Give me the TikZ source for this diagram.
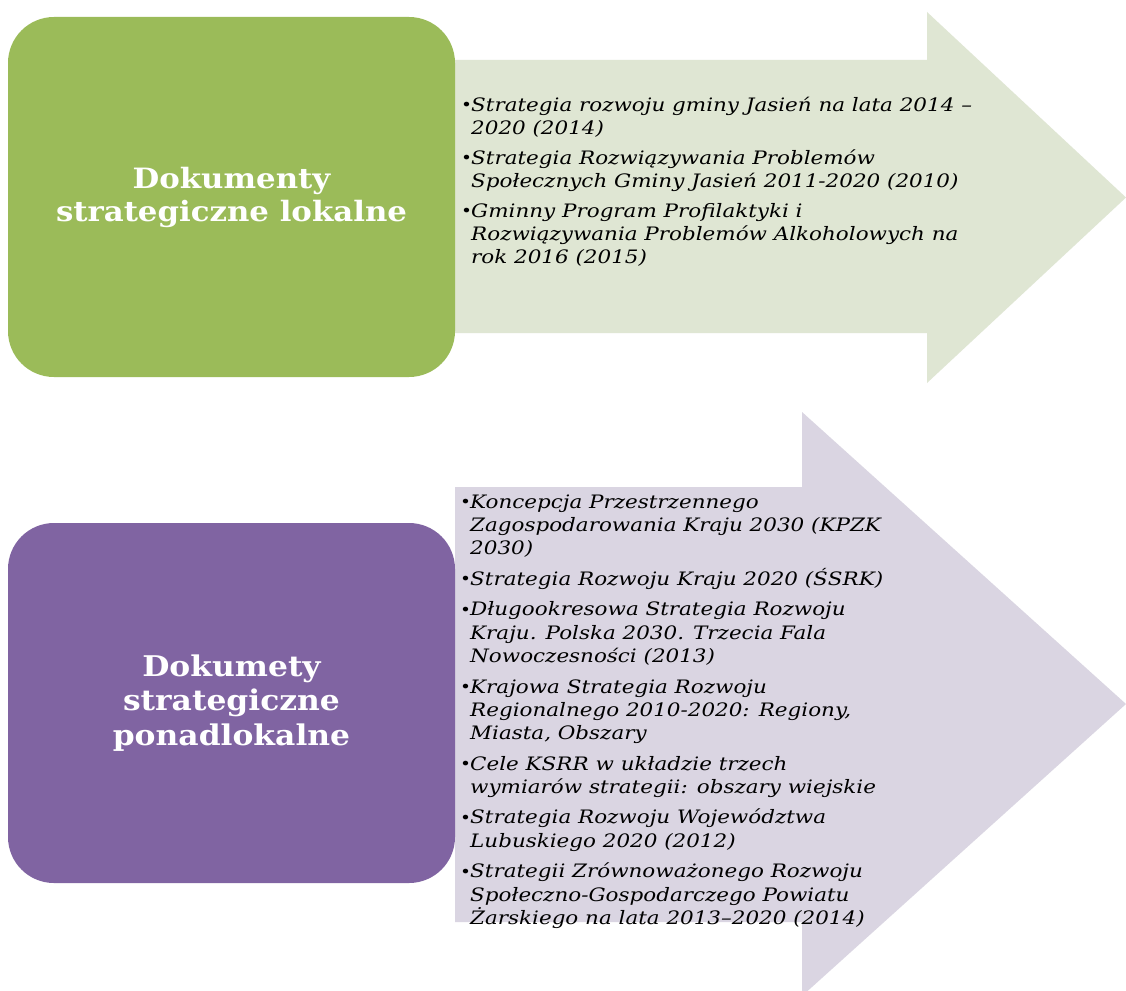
\documentclass[tikz,border=0pt]{standalone}
\usepackage{fontspec}
\setmainfont{DejaVu Serif}
\newfontfamily\itemfont[FakeStretch=1.16]{DejaVu Serif}
\newfontfamily\headfont[FakeStretch=1.1]{DejaVu Serif}
\definecolor{gbox}{HTML}{9BBB59}
\definecolor{garrow}{HTML}{DFE6D3}
\definecolor{pbox}{HTML}{8064A2}
\definecolor{parrow}{HTML}{DAD5E2}
\newcommand\bul{\makebox[10pt][l]{\raisebox{0.5pt}{\fontsize{16}{16}\selectfont\upshape •}}}
\newcommand\ind{\hspace*{10pt}}
\tikzset{
  catbox/.style={rounded corners=46pt, minimum width=447pt, minimum height=360pt,
    text=white, font=\headfont\fontsize{28}{33}\selectfont\bfseries, align=center, inner sep=0pt},
  itemlist/.style={anchor=north west, align=left, inner sep=0pt,
    font=\itemfont\fontsize{18.5}{23}\selectfont\itshape, text=black}
}
\begin{document}
\begin{tikzpicture}[x=1pt,y=-1pt]
\fill[white] (0,0) rectangle (1126,990);
\useasboundingbox (0,0) rectangle (1126,990);
% green arrow
\fill[garrow] (455,60) -- (927,60) -- (927,12) -- (1126,197.5) -- (927,383) -- (927,333) -- (455,333) -- cycle;
\node[catbox, fill=gbox] (lok) at (231.5,197) {Dokumenty\\strategiczne lokalne};
\node[itemlist] (lokitems) at (461,96.5) {%
\bul Strategia rozwoju gminy Jasień na lata 2014 –\\
\ind 2020 (2014)\\[7pt]
\bul Strategia Rozwiązywania Problemów\\
\ind Społecznych Gminy Jasień 2011-2020 (2010)\\[7pt]
\bul Gminny Program Profilaktyki i\\
\ind Rozwiązywania Problemów Alkoholowych na\\
\ind rok 2016 (2015)};
% purple arrow
\fill[parrow] (455,487) -- (802,487) -- (802,412) -- (1126,704) -- (802,996) -- (802,922) -- (455,922) -- cycle;
\node[catbox, fill=pbox, font=\headfont\fontsize{28.5}{34.5}\selectfont\bfseries] (ponad) at (231.5,703) {Dokumety\\strategiczne\\ponadlokalne};
\node[itemlist, font=\itemfont\fontsize{18.5}{23.3}\selectfont\itshape] (ponaditems) at (460,494.5) {%
\bul Koncepcja Przestrzennego\\
\ind Zagospodarowania Kraju 2030 (KPZK\\
\ind 2030)\\[7.2pt]
\bul Strategia Rozwoju Kraju 2020 (ŚSRK)\\[7.2pt]
\bul Długookresowa Strategia Rozwoju\\
\ind Kraju. Polska 2030. Trzecia Fala\\
\ind Nowoczesności (2013)\\[7.2pt]
\bul Krajowa Strategia Rozwoju\\
\ind Regionalnego 2010-2020: Regiony,\\
\ind Miasta, Obszary\\[7.2pt]
\bul Cele KSRR w układzie trzech\\
\ind wymiarów strategii: obszary wiejskie\\[7.2pt]
\bul Strategia Rozwoju Województwa\\
\ind Lubuskiego 2020 (2012)\\[7.2pt]
\bul Strategii Zrównoważonego Rozwoju\\
\ind Społeczno-Gospodarczego Powiatu\\
\ind Żarskiego na lata 2013–2020 (2014)};
\end{tikzpicture}
\end{document}
